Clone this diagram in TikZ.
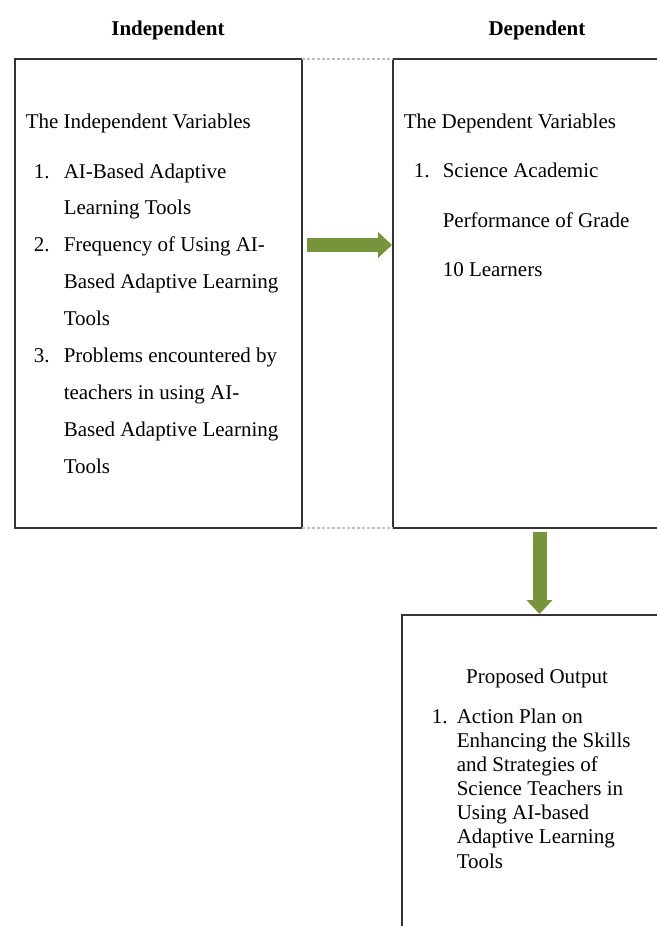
\documentclass[tikz,border=0pt]{standalone}
\usepackage{fontspec}
\setmainfont{Liberation Serif}
\usetikzlibrary{arrows.meta}
\definecolor{arrowgreen}{RGB}{119,147,60}

\begin{document}
\begin{tikzpicture}
[x=1pt,y=-1pt,line width=1.5pt,
 box/.style={draw=black!80},
 rule/.style={draw=black!25,line width=1.2pt,dash pattern=on 3pt off 2pt},
 txt/.style={anchor=base west,inner sep=0pt,font=\fontsize{21}{25}\selectfont},
 head/.style={anchor=base,inner sep=0pt,font=\fontsize{21}{25}\selectfont\bfseries},
 fat/.style={draw=arrowgreen,line width=14pt,
   -{Triangle[length=14pt,width=26pt,line width=0pt]}}]

\useasboundingbox (0,0) rectangle (657,926);

\node[head] (hind) at (168,35) {Independent};
\node[head] (hdep) at (537,35) {Dependent};

\coordinate (ivnw) at (15,59);
\coordinate (ivse) at (302,528);
\coordinate (dvnw) at (393,59);
\coordinate (dvsw) at (393,528);
\coordinate (ponw) at (402,615);

\draw[box] (ivnw) rectangle (ivse); %independent
\draw[box] (657,59) -- (dvnw) -- (dvsw) -- (657,528); %dependent
\draw[box] (657,615) -- (ponw) -- (402,926); %output
\draw[rule] (ivnw -| ivse) -- (dvnw); %table lines
\draw[rule] (ivse) -- (dvsw);

% independent variables
\node[txt] (iv) at (25,128) {The Independent Variables};
\node[txt] (ivn1) at (33,178) {1.};
\node[txt] (iv1a) at (63,178) {AI-Based Adaptive};
\node[txt] (iv1b) at (63,214) {Learning Tools};
\node[txt] (ivn2) at (33,251) {2.};
\node[txt] (iv2a) at (63,251) {Frequency of Using AI-};
\node[txt] (iv2b) at (63,288) {Based Adaptive Learning};
\node[txt] (iv2c) at (63,325) {Tools};
\node[txt] (ivn3) at (33,362) {3.};
\node[txt] (iv3a) at (63,362) {Problems encountered by};
\node[txt] (iv3b) at (63,399) {teachers in using AI-};
\node[txt] (iv3c) at (63,436) {Based Adaptive Learning};
\node[txt] (iv3d) at (63,473) {Tools};

% dependent variables
\node[txt] (dv) at (403,128) {The Dependent Variables};
\node[txt] (dvn1) at (413,177) {1.};
\node[txt] (dv1a) at (442,177) {Science Academic};
\node[txt] (dv1b) at (442,227) {Performance of Grade};
\node[txt] (dv1c) at (442,276) {10 Learners};

% proposed output
\node[txt,anchor=base] (po) at (537,683) {Proposed Output};
\node[txt] (pon1) at (431,723) {1.};
\node[txt] (po1a) at (456,723) {Action Plan on};
\node[txt] (po1b) at (456,747) {Enhancing the Skills};
\node[txt] (po1c) at (456,771) {and Strategies of};
\node[txt] (po1d) at (456,795) {Science Teachers in};
\node[txt] (po1e) at (456,819) {Using AI-based};
\node[txt] (po1f) at (456,843) {Adaptive Learning};
\node[txt] (po1g) at (456,868) {Tools};

\coordinate (rs) at (307,245);
\coordinate (re) at (392,245);
\coordinate (ds) at (539.5,532);
\coordinate (de) at (539.5,614);
\draw[fat] (rs) -- (re);
\draw[fat] (ds) -- (de);

\end{tikzpicture}
\end{document}
